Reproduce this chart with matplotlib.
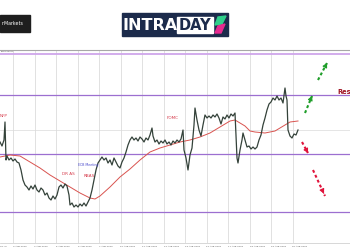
import numpy as np
import matplotlib
matplotlib.use("Agg")
import matplotlib.pyplot as plt
from matplotlib.patches import Rectangle, Polygon

# ── DATA ──────────────────────────────────────────────────────────────────────

# price path (bar index, price level)
bar_x = [0, 2, 4, 5, 6, 7, 9, 11, 13, 15, 17, 19, 21, 23, 25, 27, 29, 31, 33, 35,
         37, 39, 41, 43, 45, 47, 49, 51, 53, 55, 57, 59, 61, 63, 65, 67, 69, 70, 72, 74,
         76, 78, 80, 82, 84, 86, 88, 90, 92, 94, 96, 98, 100, 102, 104, 106, 108, 110, 112, 114,
         116, 118, 120, 122, 124, 126, 128, 130, 132, 134, 136, 138, 140, 142, 144, 146, 148, 150, 152, 153,
         155, 157, 159, 161, 163, 165, 167, 169, 171, 173, 175, 177, 179, 181, 183, 184, 186, 188, 190, 192,
         194, 195, 197, 199, 201, 203, 205, 207, 209, 211, 213, 215, 217, 219, 221, 223, 225, 227, 229, 231,
         233, 235, 237, 238, 240, 242, 243, 245, 247, 249, 251, 253, 255, 257, 259, 261, 263, 265, 267, 269,
         271, 273, 275, 277, 279, 281, 283, 285, 286, 287, 288, 290, 292, 294, 296, 298]
close = [108, 104, 110, 128, 90, 94, 90, 92, 89, 91, 88, 87, 80, 70, 65, 63, 60, 64, 61, 65,
         60, 58, 62, 60, 55, 57, 52, 50, 54, 51, 55, 63, 65, 62, 66, 64, 55, 45, 47, 43,
         45, 43, 46, 44, 47, 44, 48, 52, 60, 70, 80, 87, 90, 93, 90, 92, 87, 90, 85, 92,
         88, 84, 82, 88, 92, 98, 105, 110, 113, 110, 112, 109, 113, 111, 108, 112, 110, 115, 122, 114,
         108, 110, 106, 109, 107, 110, 106, 108, 105, 109, 107, 110, 108, 111, 120, 100, 92, 80, 95, 102,
         125, 142, 130, 120, 114, 125, 135, 132, 134, 132, 135, 133, 136, 132, 126, 133, 131, 135, 132, 136,
         134, 137, 92, 87, 100, 110, 117, 110, 103, 104, 101, 103, 101, 103, 110, 115, 125, 132, 140, 146,
         148, 152, 150, 154, 150, 152, 147, 162, 154, 150, 120, 114, 112, 116, 115, 120]

# moving average
ma_x = [0, 10, 20, 30, 40, 50, 60, 70, 80, 90, 95, 100, 110, 120, 130, 140, 150, 160, 170, 180,
        190, 200, 210, 220, 230, 235, 240, 245, 250, 255, 265, 275, 285, 290, 298]
ma_vals = [93, 95, 94, 88, 82, 75, 69, 63, 57, 52, 51, 54, 63, 73, 81, 90, 98, 102, 105, 108,
           110, 113, 117, 123, 129, 130, 127, 124, 119, 118, 117, 119, 125, 128, 129]

# support / resistance levels
top_level = 196
sr_levels = [155, 96, 38]
mid_grid = 120

# date labels under the day grid
date_labels = ["31 Jul", "3 Aug 2020", "4 Aug 2020", "5 Aug 2020", "6 Aug 2020", "7 Aug 2020",
               "10 Aug 2020", "11 Aug 2020", "12 Aug 2020", "13 Aug 2020", "14 Aug 2020",
               "17 Aug 2020", "18 Aug 2020", "19 Aug 2020", "20 Aug 2020"]

# event notes (bar, level, text, colour)
events = [(4, 134, "NFP", "#d63a4a"),
          (68, 76, "DR AS", "#d63a4a"),
          (88, 85, "ECB Meeting", "#4a4acc"),
          (89, 74, "RBAS", "#d63a4a"),
          (173, 132, "FOMC", "#d63a4a")]

# scenario arrows (x0, y0, x1, y1)
up_arrows = [(305, 137, 312, 154), (318, 170, 327, 187)]
down_arrows = [(302, 108, 308, 97), (313, 80, 325, 54)]

# ── FIGURE ────────────────────────────────────────────────────────────────────

fig = plt.figure(figsize=(3.5, 2.5), dpi=100)
fig.patch.set_facecolor("white")

# header / logos in pixel space
bg = fig.add_axes([0, 0, 1, 1])
bg.set_xlim(0, 350)
bg.set_ylim(250, 0)
bg.axis("off")

bg.add_patch(Rectangle((0, 15), 30, 17, color="#1e1e1e"))
bg.text(2, 23.5, "nMarkets", color="white", fontsize=3.4, va="center", ha="left")

bg.add_patch(Rectangle((122, 13), 106, 23, color="#1c2b4b"))
bg.add_patch(Rectangle((177, 17), 36, 16, color="white"))
bg.text(150, 25, "INTRA", color="white", fontsize=11.5, fontweight="bold",
        ha="center", va="center")
bg.text(195, 25.5, "DAY", color="#1c2b4b", fontsize=10.5, fontweight="bold",
        ha="center", va="center")
bg.add_patch(Polygon([(218, 17), (226, 16), (222, 24), (215, 25)], color="#2fd08a"))
bg.add_patch(Polygon([(218, 26), (225, 24), (221, 33), (215, 33)], color="#e6298f"))

# chart
ax = fig.add_axes([0, 7 / 250, 1, 193 / 250])
ax.set_facecolor("none")
ax.set_xlim(0, 350)
ax.set_ylim(7, 200)
ax.set_xticks([])
ax.set_yticks([])
for side in ["left", "right"]:
    ax.spines[side].set_visible(False)
ax.spines["top"].set_color("#a8a8a8")
ax.spines["top"].set_linewidth(0.8)
ax.spines["bottom"].set_color("#c8c8c8")
ax.spines["bottom"].set_linewidth(0.5)

grid_x = np.arange(len(date_labels)) * 21.5 - 8.5
for gx in grid_x:
    if gx > 0:
        ax.axvline(gx, color="#d4d4d4", lw=0.5, zorder=1)
ax.axhline(mid_grid, color="#dadada", lw=0.5, zorder=1)
ax.axhline(top_level, color="#cfa6ea", lw=1.3, zorder=2)
for lvl in sr_levels:
    ax.axhline(lvl, color="#9c6fd0", lw=0.9, zorder=2)

for gx, lab in zip(grid_x, date_labels):
    ax.text(max(gx, 0.5), 3.5, lab, fontsize=1.7, color="#555555", ha="left",
            va="center", clip_on=False)
ax.text(1, 198.5, "EURUSD,H1", fontsize=1.6, color="#555555", va="center")

ax.plot(ma_x, ma_vals, color="#d9534f", lw=0.7, zorder=3)
ax.plot(bar_x, close, color="#34423a", lw=0.9, zorder=4)

for x, y, txt, col in events:
    ax.text(x, y, txt, color=col, fontsize=3.0 if len(txt) < 6 else 2.3,
            ha="center", va="center", zorder=5)

ax.text(337, 158, "Res", color="#a01525", fontsize=4.8, fontweight="bold",
        ha="left", va="center")

def dashed_arrow(x0, y0, x1, y1, color):
    ax.plot([x0, x1], [y0, y1], color=color, lw=1.5, ls=(0, (1.4, 1.2)),
            solid_capstyle="butt", zorder=6)
    dx, dy = (x1 - x0) * 0.2, (y1 - y0) * 0.2
    ax.annotate("", xy=(x1, y1), xytext=(x1 - dx, y1 - dy),
                arrowprops=dict(arrowstyle="-|>,head_length=0.25,head_width=0.14",
                                color=color, lw=0.8), zorder=6)

for a in up_arrows:
    dashed_arrow(*a, "#1f9e2a")
for a in down_arrows:
    dashed_arrow(*a, "#e0143c")

fig.savefig("out.png", dpi=100)
